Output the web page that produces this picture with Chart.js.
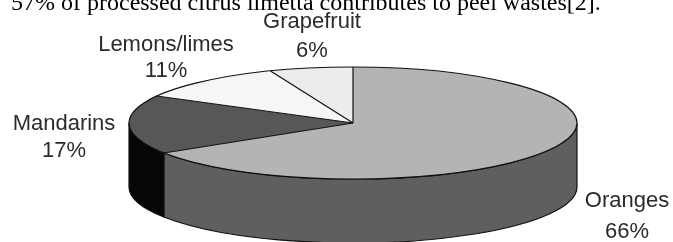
<!DOCTYPE html>
<html lang="en">
<head>
    <meta charset="UTF-8">
    <title>Citrus processing shares</title>
    <script src="https://cdn.jsdelivr.net/npm/chart.js"></script>
    <style>
        body { margin: 0; background: #fff; }
        #wrap { width: 673px; height: 242px; overflow: hidden; }
    </style>
</head>
<body>
    <div id="wrap">
        <canvas id="pie" width="673" height="242"></canvas>
    </div>

    <script>
        // data
        const fruits = ['Oranges', 'Mandarins', 'Lemons/limes', 'Grapefruit'];
        const shares = [66, 17, 11, 6];
        const caption = '57% of processed citrus limetta contributes to peel wastes[2].';

        // styling
        const topColors = ['#b4b4b4', '#575757', '#f6f6f6', '#ececec'];
        const sideColors = ['#5f5f5f', '#060606', '#dcdcdc', '#d0d0d0'];
        const RX = 224, RY = 56, DEPTH = 64;
        const labelSpots = [
            { x: 627, y: [207, 238] },
            { x: 64, y: [130, 157] },
            { x: 166, y: [51, 77] },
            { x: 312, y: [28, 57] }
        ];

        // side wall of the cake, drawn before the slices
        const cakePlugin = {
            id: 'cake',
            beforeDatasetsDraw(chart) {
                const ctx = chart.ctx;
                const arcs = chart.getDatasetMeta(0).data;
                ctx.save();
                ctx.lineWidth = 1.2;
                ctx.strokeStyle = '#111';
                arcs.forEach((arc, i) => {
                    const cx = arc.x, cy = arc.y;
                    [-2 * Math.PI, 0, 2 * Math.PI].forEach(shift => {
                        const lo = Math.max(arc.startAngle, shift);
                        const hi = Math.min(arc.endAngle, shift + Math.PI);
                        if (hi <= lo) return;
                        ctx.beginPath();
                        ctx.ellipse(cx, cy, RX, RY, 0, lo, hi, false);
                        ctx.ellipse(cx, cy + DEPTH, RX, RY, 0, hi, lo, true);
                        ctx.closePath();
                        ctx.fillStyle = sideColors[i];
                        ctx.fill();
                        ctx.stroke();
                    });
                });
                ctx.restore();

                // squash the round pie into an ellipse
                const a = arcs[0];
                ctx.save();
                ctx.translate(a.x, a.y);
                ctx.scale(RX / a.outerRadius, RY / a.outerRadius);
                ctx.translate(-a.x, -a.y);
            },
            afterDatasetsDraw(chart) {
                const ctx = chart.ctx;
                ctx.restore();
                const arcs = chart.getDatasetMeta(0).data;
                const cx = arcs[0].x, cy = arcs[0].y;
                ctx.save();
                ctx.lineWidth = 1.2;
                ctx.strokeStyle = '#111';
                ctx.beginPath();
                ctx.ellipse(cx, cy, RX, RY, 0, 0, 2 * Math.PI);
                ctx.stroke();
                arcs.forEach(arc => {
                    ctx.beginPath();
                    ctx.moveTo(cx, cy);
                    ctx.lineTo(cx + RX * Math.cos(arc.startAngle), cy + RY * Math.sin(arc.startAngle));
                    ctx.stroke();
                });
                ctx.restore();
            },
            afterDraw(chart) {
                const ctx = chart.ctx;
                ctx.save();
                ctx.fillStyle = '#000';
                ctx.font = '24px "Liberation Serif", "Times New Roman", serif';
                ctx.textAlign = 'left';
                ctx.textBaseline = 'alphabetic';
                ctx.fillText(caption, 11, 10);

                ctx.fillStyle = '#2b2b2b';
                ctx.font = '22px "Liberation Sans", Arial, sans-serif';
                ctx.textAlign = 'center';
                fruits.forEach((name, i) => {
                    const spot = labelSpots[i];
                    ctx.fillText(name, spot.x, spot.y[0]);
                    ctx.fillText(shares[i] + '%', spot.x, spot.y[1]);
                });
                ctx.restore();
            }
        };

        new Chart(document.getElementById('pie'), {
            type: 'pie',
            data: {
                labels: fruits,
                datasets: [{
                    data: shares,
                    backgroundColor: topColors,
                    borderWidth: 0,
                    clip: false
                }]
            },
            options: {
                responsive: false,
                animation: false,
                radius: 224,
                layout: { padding: { left: 40, right: 7, top: 4, bottom: 0 } },
                plugins: {
                    legend: { display: false },
                    tooltip: { enabled: false },
                    title: { display: false }
                }
            },
            plugins: [cakePlugin]
        });
    </script>
</body>
</html>
